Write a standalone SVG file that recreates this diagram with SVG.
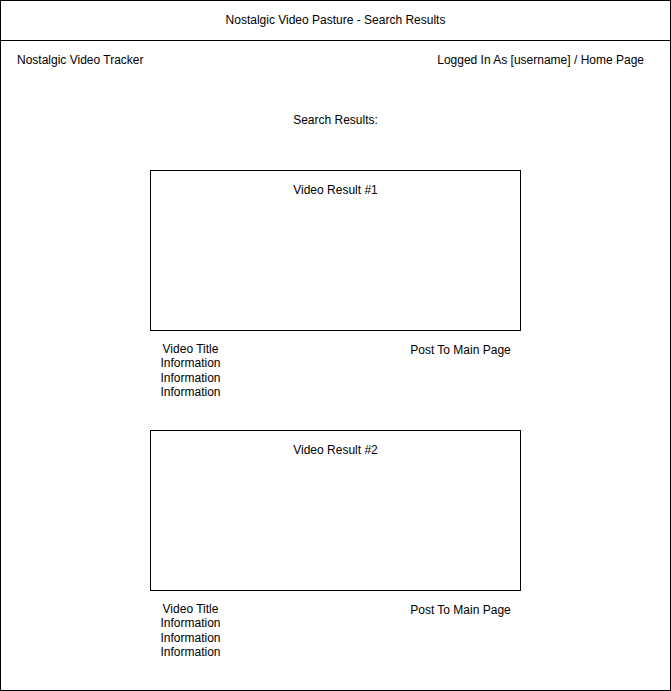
<svg xmlns="http://www.w3.org/2000/svg" width="671" height="691" viewBox="0 0 671 691">
<style>
text{font-family:"Liberation Sans",Arial,sans-serif;font-size:12px;fill:#000}
.c{text-anchor:middle}
.box{fill:#fff;stroke:#000;stroke-width:1}
</style>
<rect width="671" height="691" fill="#fff"/>
<g id="page">
<rect class="box" x="0.5" y="0.5" width="670" height="690"/>
<line x1="0" y1="40.5" x2="671" y2="40.5" stroke="#000"/>
</g>
<g id="title"><text class="c" x="335.5" y="23.5">Nostalgic Video Pasture - Search Results</text></g>
<g id="tracker"><text x="17" y="64">Nostalgic Video Tracker</text></g>
<g id="logged"><text x="644" y="64" text-anchor="end">Logged In As [username] / Home Page</text></g>
<g id="search"><text class="c" x="335.5" y="124">Search Results:</text></g>
<g id="result1">
<rect class="box" x="150.5" y="170.5" width="370" height="160"/>
<text class="c" x="335.5" y="194">Video Result #1</text>
</g>
<g id="info1">
<text class="c" x="190.5" y="353">Video Title</text>
<text class="c" x="190.5" y="367">Information</text>
<text class="c" x="190.5" y="381.5">Information</text>
<text class="c" x="190.5" y="396">Information</text>
</g>
<g id="post1"><text class="c" x="460.5" y="354">Post To Main Page</text></g>
<g id="result2">
<rect class="box" x="150.5" y="430.5" width="370" height="160"/>
<text class="c" x="335.5" y="454">Video Result #2</text>
</g>
<g id="info2">
<text class="c" x="190.5" y="612.5">Video Title</text>
<text class="c" x="190.5" y="627">Information</text>
<text class="c" x="190.5" y="641.5">Information</text>
<text class="c" x="190.5" y="656">Information</text>
</g>
<g id="post2"><text class="c" x="460.5" y="614">Post To Main Page</text></g>
<g id="connectors"></g>
</svg>
